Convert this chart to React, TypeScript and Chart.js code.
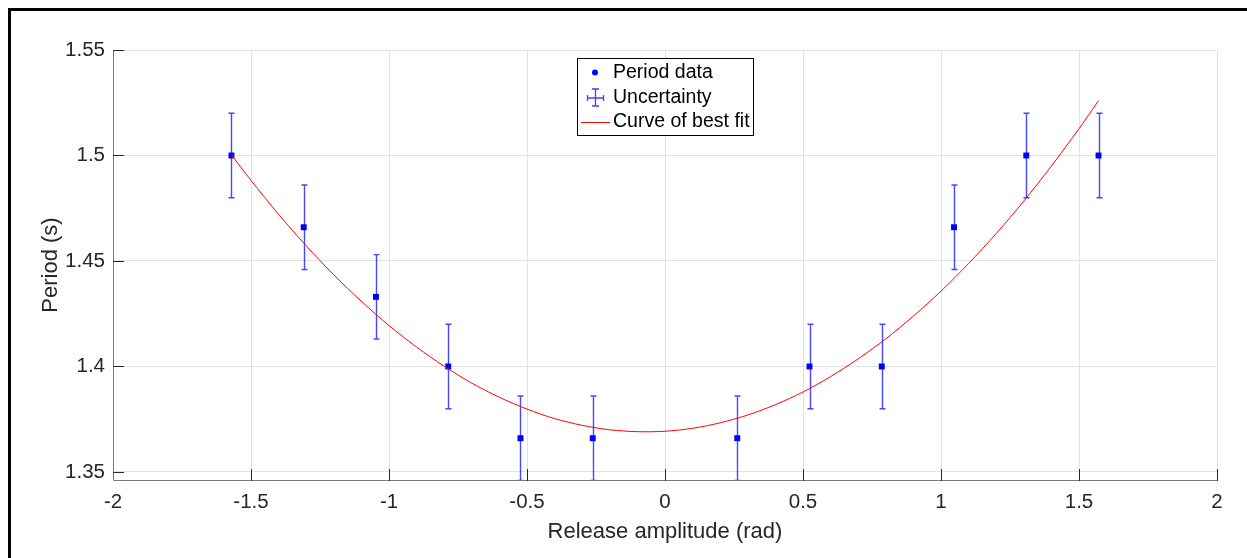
import React, { useEffect, useRef } from 'react';
import { Chart, registerables } from 'chart.js';

Chart.register(...registerables);

const FONT = '"Liberation Sans", Arial, Helvetica, sans-serif';

// ---- data ----
const periodX = [-1.5708, -1.309, -1.0472, -0.7854, -0.5236, -0.2618, 0.2618, 0.5236, 0.7854, 1.0472, 1.309, 1.5708];
const periodY = [1.5, 1.466, 1.433, 1.4, 1.366, 1.366, 1.366, 1.4, 1.4, 1.466, 1.5, 1.5];
const uncertainty = [0.02, 0.02, 0.02, 0.02, 0.02, 0.02, 0.02, 0.02, 0.02, 0.02, 0.02, 0.02];

const fitX = [-1.5708, -1.5, -1.4, -1.3, -1.2, -1.1, -1.0, -0.9, -0.8, -0.7, -0.6, -0.5, -0.4, -0.3, -0.2, -0.1, 0.0,
  0.1, 0.2, 0.3, 0.4, 0.5, 0.6, 0.7, 0.8, 0.9, 1.0, 1.1, 1.2, 1.3, 1.4, 1.5, 1.5708];
const fitY = [1.5003, 1.4882, 1.4721, 1.4572, 1.4434, 1.4309, 1.4194, 1.4092, 1.4001, 1.3921, 1.3854, 1.3798, 1.3753,
  1.3721, 1.37, 1.3691, 1.3693, 1.3707, 1.3733, 1.377, 1.3819, 1.3879, 1.3952, 1.4036, 1.4131, 1.4239, 1.4357, 1.4488,
  1.463, 1.4784, 1.495, 1.5127, 1.526];

const xTicks = [-2, -1.5, -1, -0.5, 0, 0.5, 1, 1.5, 2];
const xTickLabels = ['-2', '-1.5', '-1', '-0.5', '0', '0.5', '1', '1.5', '2'];
const yTicks = [1.35, 1.4, 1.45, 1.5, 1.55];
const yTickLabels = ['1.35', '1.4', '1.45', '1.5', '1.55'];
const xRange = [-2, 2];
const yRange = [1.3462, 1.55];

const seriesLabels = ['Period data', 'Uncertainty', 'Curve of best fit'];
const xTitle = 'Release amplitude (rad)';
const yTitle = 'Period (s)';

export default function App() {
  const ref = useRef<HTMLCanvasElement>(null);

  useEffect(() => {
    if (!ref.current) return;

    const errorBars = {
      id: 'errorBars',
      beforeDatasetsDraw(chart: any) {
        const { ctx, chartArea, scales } = chart;
        const { left, right, top, bottom } = chartArea;
        const xs = scales.x, ys = scales.y;
        ctx.save();
        ctx.beginPath();
        ctx.rect(left, top - 1, right - left, bottom - top + 2);
        ctx.clip();
        ctx.strokeStyle = 'rgba(0,0,255,0.72)';
        ctx.lineWidth = 1.4;
        periodX.forEach((xv, i) => {
          const px = Math.round(xs.getPixelForValue(xv)) + 0.5;
          const y1 = ys.getPixelForValue(periodY[i] + uncertainty[i]);
          const y2 = ys.getPixelForValue(periodY[i] - uncertainty[i]);
          ctx.beginPath();
          ctx.moveTo(px, y1);
          ctx.lineTo(px, y2);
          ctx.moveTo(px - 3, y1);
          ctx.lineTo(px + 3, y1);
          ctx.moveTo(px - 3, y2);
          ctx.lineTo(px + 3, y2);
          ctx.stroke();
        });
        ctx.restore();
      },
    };

    const axesAndLegend = {
      id: 'axesAndLegend',
      afterDraw(chart: any) {
        const { ctx, chartArea, scales } = chart;
        const { left, right, top, bottom } = chartArea;
        const xs = scales.x, ys = scales.y;
        ctx.save();
        // axis lines
        ctx.strokeStyle = '#7a7a7a';
        ctx.lineWidth = 1;
        ctx.beginPath();
        ctx.moveTo(left + 0.5, top);
        ctx.lineTo(left + 0.5, bottom + 0.5);
        ctx.lineTo(right + 1, bottom + 0.5);
        ctx.stroke();
        // inward ticks
        ctx.strokeStyle = '#262626';
        ctx.beginPath();
        xTicks.forEach((v, i) => {
          if (i === 0) return;
          const px = Math.round(xs.getPixelForValue(v)) + 0.5;
          ctx.moveTo(px, bottom + 1);
          ctx.lineTo(px, bottom - 11);
        });
        yTicks.forEach((v) => {
          const py = Math.round(ys.getPixelForValue(v)) + 0.5;
          ctx.moveTo(left, py);
          ctx.lineTo(left + 11, py);
        });
        ctx.stroke();

        // legend
        const bx = 577.5, by = 58.5, bw = 176, bh = 77;
        ctx.fillStyle = '#ffffff';
        ctx.fillRect(bx, by, bw, bh);
        ctx.strokeStyle = '#000000';
        ctx.lineWidth = 1;
        ctx.strokeRect(bx, by, bw, bh);
        const rows = [72.5, 97.5, 122];
        const iconX = 595;
        // dot
        ctx.fillStyle = '#0000ff';
        ctx.beginPath();
        ctx.arc(iconX, rows[0], 3, 0, Math.PI * 2);
        ctx.fill();
        // errorbar icon
        ctx.strokeStyle = 'rgba(0,0,255,0.75)';
        ctx.lineWidth = 1.3;
        ctx.beginPath();
        ctx.moveTo(iconX + 0.5, rows[1] - 8.5);
        ctx.lineTo(iconX + 0.5, rows[1] + 8.5);
        ctx.moveTo(iconX - 3, rows[1] - 8.5);
        ctx.lineTo(iconX + 4, rows[1] - 8.5);
        ctx.moveTo(iconX - 3, rows[1] + 8.5);
        ctx.lineTo(iconX + 4, rows[1] + 8.5);
        ctx.moveTo(iconX - 7.5, rows[1] + 0.5);
        ctx.lineTo(iconX + 8.5, rows[1] + 0.5);
        ctx.moveTo(iconX - 7.5, rows[1] - 2.5);
        ctx.lineTo(iconX - 7.5, rows[1] + 3.5);
        ctx.moveTo(iconX + 8.5, rows[1] - 2.5);
        ctx.lineTo(iconX + 8.5, rows[1] + 3.5);
        ctx.stroke();
        // line icon
        ctx.strokeStyle = '#ff0000';
        ctx.lineWidth = 1;
        ctx.beginPath();
        ctx.moveTo(581, rows[2] + 0.5);
        ctx.lineTo(610, rows[2] + 0.5);
        ctx.stroke();
        // texts
        ctx.fillStyle = '#000000';
        ctx.font = `19.5px ${FONT}`;
        ctx.textAlign = 'left';
        ctx.textBaseline = 'middle';
        seriesLabels.forEach((t, i) => ctx.fillText(t, 613, rows[i]));
        ctx.restore();
      },
    };

    const chart = new Chart(ref.current, {
      type: 'scatter',
      data: {
        datasets: [
          {
            label: seriesLabels[0],
            data: periodX.map((x, i) => ({ x, y: periodY[i] })),
            pointStyle: 'rect',
            pointRadius: 4.2,
            backgroundColor: '#0000ff',
            borderColor: '#0000ff',
            borderWidth: 0,
            order: 1,
          },
          {
            label: seriesLabels[2],
            data: fitX.map((x, i) => ({ x, y: fitY[i] })),
            showLine: true,
            borderColor: '#ff0000',
            backgroundColor: '#ff0000',
            borderWidth: 1,
            pointRadius: 0,
            tension: 0.3,
            order: 0,
          },
        ],
      },
      options: {
        responsive: false,
        animation: false,
        devicePixelRatio: 1,
        layout: { padding: { top: 50, right: 30, left: 0, bottom: 0 } },
        plugins: { legend: { display: false }, tooltip: { enabled: false } },
        scales: {
          x: {
            type: 'linear',
            min: xRange[0],
            max: xRange[1],
            afterBuildTicks: (s: any) => { s.ticks = xTicks.map((v) => ({ value: v })); },
            afterFit: (s: any) => { s.height = 78; },
            ticks: {
              callback: (_v: any, i: number) => xTickLabels[i],
              font: { family: FONT, size: 20.5 },
              color: '#262626',
              padding: 10,
              maxRotation: 0,
              autoSkip: false,
            },
            grid: { color: '#e2e2e2', lineWidth: 1, drawTicks: false },
            border: { display: false },
            title: {
              display: true,
              text: xTitle,
              font: { family: FONT, size: 22 },
              color: '#262626',
              padding: { top: 0, bottom: 13 },
            },
          },
          y: {
            type: 'linear',
            min: yRange[0],
            max: yRange[1],
            afterBuildTicks: (s: any) => { s.ticks = yTicks.map((v) => ({ value: v })); },
            afterFit: (s: any) => { s.width = 113; },
            ticks: {
              callback: (_v: any, i: number) => yTickLabels[i],
              font: { family: FONT, size: 20.5 },
              color: '#262626',
              padding: 8,
              autoSkip: false,
            },
            grid: { color: '#e2e2e2', lineWidth: 1, drawTicks: false },
            border: { display: false },
            title: {
              display: true,
              text: yTitle,
              font: { family: FONT, size: 22 },
              color: '#262626',
              padding: { top: 38, bottom: 0 },
            },
          },
        },
      },
      plugins: [errorBars, axesAndLegend],
    } as any);

    return () => chart.destroy();
  }, []);

  return (
    <div style={{ position: 'fixed', left: 0, top: 0, width: 1247, height: 558, overflow: 'hidden', background: '#ffffff' }}>
      <div
        style={{
          position: 'absolute',
          left: 8,
          top: 8,
          width: 1300,
          height: 600,
          borderTop: '3px solid #000',
          borderLeft: '3px solid #000',
        }}
      />
      <canvas ref={ref} width={1247} height={558} style={{ position: 'absolute', left: 0, top: 0 }} />
    </div>
  );
}
